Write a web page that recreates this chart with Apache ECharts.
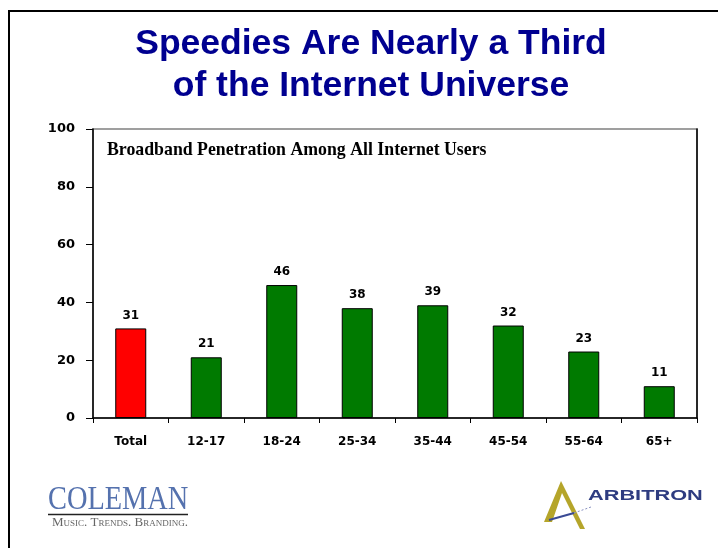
<!DOCTYPE html>
<html>
<head>
<meta charset="utf-8">
<script src="https://cdn.jsdelivr.net/npm/echarts@6/dist/echarts.min.js"></script>
<style>
  html,body{margin:0;padding:0;background:#fff;}
  #chart{width:718px;height:548px;}
</style>
</head>
<body>
<div id="chart"></div>
<script>
// data
var categories = ['Total', '12-17', '18-24', '25-34', '35-44', '45-54', '55-64', '65+'];
var penetration = [31, 21, 46, 38, 39, 32, 23, 11];
var barColors = ['#FF0000', '#007A00', '#007A00', '#007A00', '#007A00', '#007A00', '#007A00', '#007A00'];
var yTicks = { min: 0, max: 100, interval: 20 };

var titleText = 'Speedies Are Nearly a Third\nof the Internet Universe';
var subTitle = 'Broadband Penetration Among All Internet Users';

var labelFont = 'DejaVu Sans';

var myChart = echarts.init(document.getElementById('chart'), null, { renderer: 'canvas' });

myChart.setOption({
  backgroundColor: '#fff',
  animation: false,
  title: {
    text: titleText,
    left: 371,
    top: 23,
    textAlign: 'center',
    padding: 0,
    textStyle: {
      color: '#000090',
      fontFamily: 'Liberation Sans',
      fontWeight: 'bold',
      fontSize: 35.5,
      lineHeight: 42
    }
  },
  grid: {
    left: 93,
    right: 21,
    top: 129,
    bottom: 130,
    show: true,
    borderColor: '#808080',
    borderWidth: 1.5,
    backgroundColor: '#fff'
  },
  xAxis: {
    type: 'category',
    data: categories,
    boundaryGap: true,
    axisLine: { show: true, lineStyle: { color: '#000', width: 1.5 } },
    axisTick: { show: true, alignWithLabel: false, length: 5, lineStyle: { color: '#000' } },
    axisLabel: {
      margin: 18,
      color: '#000',
      fontFamily: labelFont,
      fontWeight: 'bold',
      fontSize: 12
    },
    splitLine: { show: false }
  },
  yAxis: [
    {
      type: 'value',
      min: yTicks.min,
      max: yTicks.max,
      interval: yTicks.interval,
      axisLine: { show: true, lineStyle: { color: '#000', width: 1.5 } },
      axisTick: { show: true, length: 7, lineStyle: { color: '#000' } },
      axisLabel: {
        margin: 18,
        color: '#000',
        fontFamily: labelFont,
        fontWeight: 'bold',
        fontSize: 13
      },
      splitLine: { show: false }
    },
    {
      type: 'value',
      position: 'right',
      min: yTicks.min,
      max: yTicks.max,
      interval: yTicks.interval,
      axisLine: { show: true, lineStyle: { color: '#000', width: 1.5 } },
      axisTick: { show: false },
      axisLabel: { show: false },
      splitLine: { show: false }
    }
  ],
  series: [
    {
      type: 'bar',
      data: penetration.map(function (v, i) {
        return { value: v, itemStyle: { color: barColors[i] } };
      }),
      barWidth: 31,
      itemStyle: { borderColor: '#000', borderWidth: 1 },
      label: {
        show: true,
        position: 'top',
        distance: 7,
        color: '#000',
        fontFamily: labelFont,
        fontWeight: 'bold',
        fontSize: 12
      }
    }
  ],
  graphic: [
    // outer slide frame
    {
      type: 'polyline',
      shape: { points: [[9, 548], [9, 11], [718, 11]] },
      style: { stroke: '#000', lineWidth: 2, fill: null }
    },
    // chart subtitle inside the plot
    {
      type: 'text',
      x: 107,
      y: 150,
      style: {
        text: subTitle,
        fill: '#000',
        font: 'bold 17.8px "Liberation Serif"',
        verticalAlign: 'middle'
      }
    },
    // COLEMAN logo
    {
      type: 'text',
      x: 48,
      y: 517,
      scaleX: 0.86,
      style: {
        text: 'COLEMAN',
        fill: '#5572AE',
        font: '33px "Liberation Serif"',
        verticalAlign: 'bottom'
      }
    },
    {
      type: 'line',
      shape: { x1: 48, y1: 514.5, x2: 188, y2: 514.5 },
      style: { stroke: '#222', lineWidth: 1.5 }
    },
    {
      type: 'text',
      x: 120,
      y: 523,
      style: {
        text: 'Music. Trends. Branding.',
        fill: '#666',
        font: 'small-caps 13px "Liberation Serif"',
        align: 'center',
        verticalAlign: 'middle'
      }
    },
    // ARBITRON logo
    {
      type: 'polygon',
      shape: { points: [[561, 481], [585, 529], [580, 529], [562, 493], [552, 522], [544, 522]] },
      style: { fill: '#B5A52A' }
    },
    {
      type: 'line',
      shape: { x1: 549, y1: 520, x2: 574, y2: 513 },
      style: { stroke: '#3A4A94', lineWidth: 2 }
    },
    {
      type: 'line',
      shape: { x1: 574, y1: 513, x2: 591, y2: 507 },
      style: { stroke: '#8890C0', lineWidth: 1, lineDash: [2, 2] }
    },
    {
      type: 'text',
      x: 588,
      y: 496,
      scaleX: 1.45,
      style: {
        text: 'ARBITRON',
        fill: '#2E3C80',
        font: 'bold 15px "Liberation Sans"',
        verticalAlign: 'middle'
      }
    }
  ]
});
</script>
</body>
</html>
